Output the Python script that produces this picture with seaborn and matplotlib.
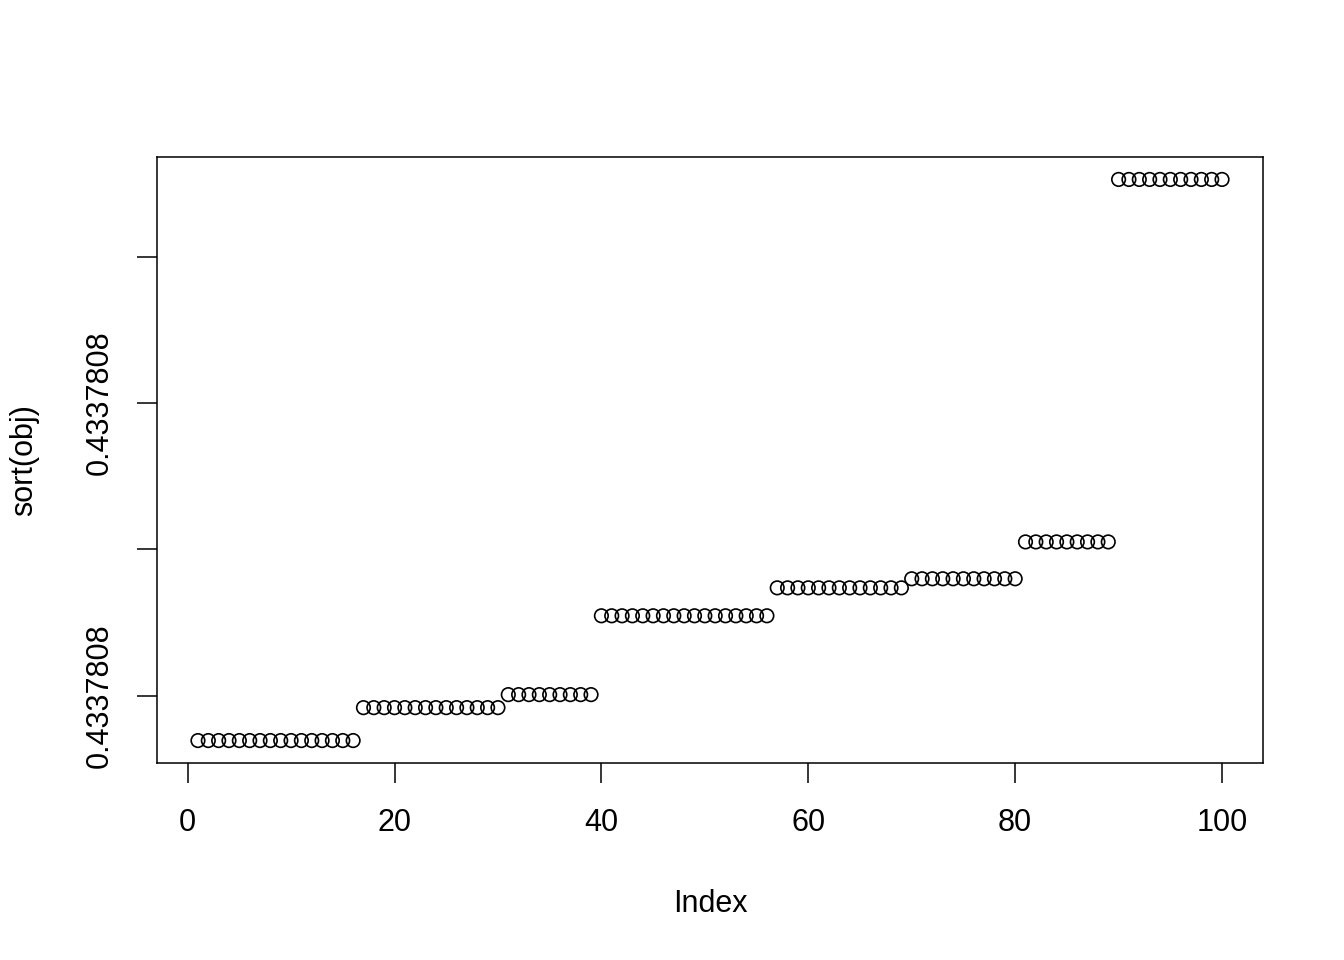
import numpy as np
import pandas as pd
import matplotlib
matplotlib.use("Agg")
import matplotlib.pyplot as plt
import seaborn as sns

# sorted values, stored as offsets from the tick at 0.4337808 (one tick step = 1 unit)
group_sizes = [16, 14, 9, 17, 13, 11, 9, 11]
group_levels = [-0.307, -0.082, 0.007, 0.546, 0.737, 0.799, 1.051, 3.529]
tick_pos = [0, 1, 2, 3]
tick_labels = ["0.4337808", "", "0.4337808", ""]
x_ticks = [0, 20, 40, 60, 80, 100]

valores = np.repeat(group_levels, group_sizes)
df = pd.DataFrame({"Index": np.arange(1, len(valores) + 1), "obj": valores})

sns.set_style("ticks")
plt.rcParams["font.family"] = ["Liberation Sans", "DejaVu Sans"]

fig = plt.figure(figsize=(13.44, 9.6), dpi=100)
ax = fig.add_axes([157 / 1344, 1 - 763 / 960, (1263 - 157) / 1344, (763 - 157) / 960])

sns.scatterplot(data=df, x="Index", y="obj", ax=ax, marker="o",
                facecolors="none", edgecolor="black", linewidth=1.2, s=95)

ax.margins(x=0.04, y=0.04)
ax.set_xticks(x_ticks)
ax.set_yticks(tick_pos)
ax.set_yticklabels(tick_labels, rotation=90, va="center")

for s in ax.spines.values():
    s.set_visible(True)
    s.set_color("black")
    s.set_linewidth(1.1)

ax.tick_params(axis="both", direction="out", length=14.4, width=1.1,
               labelsize=22, color="black", labelcolor="black")
ax.tick_params(axis="x", pad=18)
ax.tick_params(axis="y", pad=16)

ax.set_xlabel("Index", fontsize=22, labelpad=37, color="black")
ax.set_ylabel("sort(obj)", fontsize=22, labelpad=33, color="black")
ax.grid(False)

plt.savefig("out.png", dpi=100)
